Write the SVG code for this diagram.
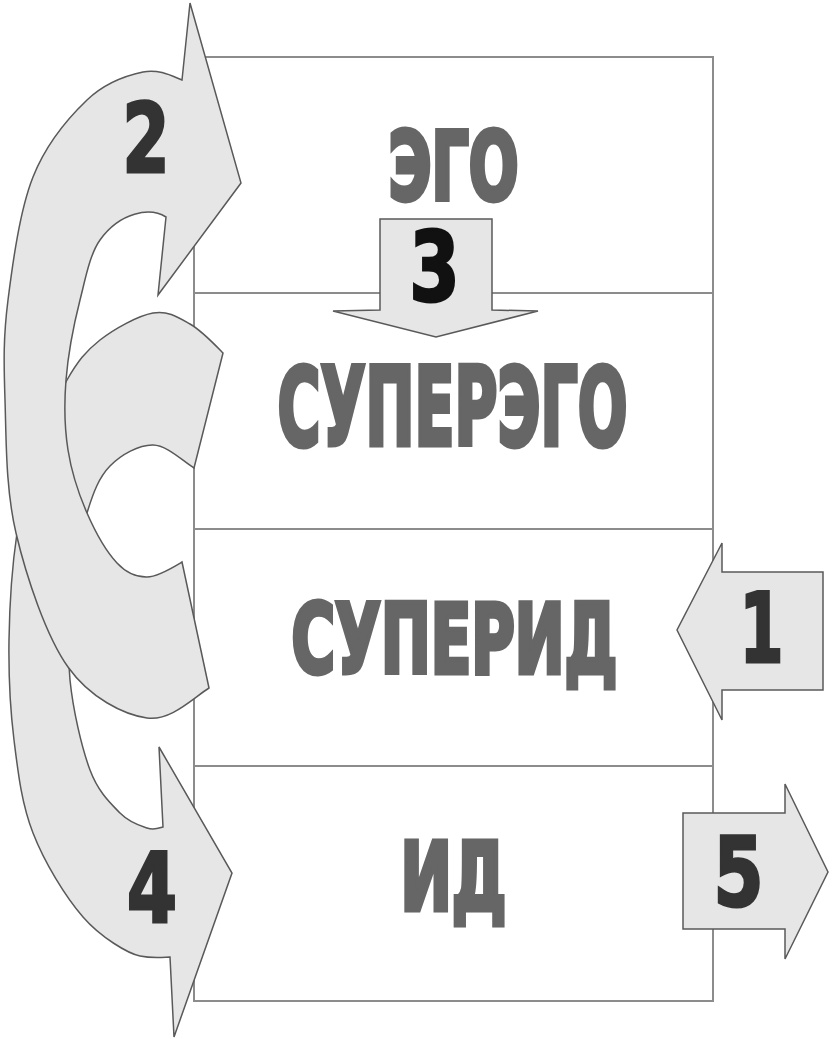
<svg xmlns="http://www.w3.org/2000/svg" width="838" height="1039" viewBox="0 0 838 1039">
<style>
.layer{fill:#ffffff;stroke:#8c8c8c;stroke-width:2}
.lbl{font-family:"DejaVu Sans Condensed","DejaVu Sans",sans-serif;font-weight:bold;fill:#666666;stroke:#666666;stroke-width:5;stroke-linejoin:miter;text-anchor:middle}
.arr{fill:#e6e6e6;stroke:#595959;stroke-width:1.5;stroke-linejoin:miter}
.num{font-family:"DejaVu Sans Condensed","DejaVu Sans",sans-serif;font-weight:bold;font-size:96px;fill:#333333;stroke:#333333;stroke-width:3;text-anchor:middle}
</style>
<rect width="838" height="1039" fill="#ffffff"/>
<g id="ego">
<rect class="layer" x="194" y="57" width="519" height="236"/>
<text class="lbl" transform="translate(453.5,199.5) scale(0.6,1)" x="0" y="0" font-size="95" textLength="216.7" lengthAdjust="spacingAndGlyphs">ЭГО</text>
</g>
<g id="superego">
<rect class="layer" x="194" y="293" width="519" height="236"/>
<text class="lbl" transform="translate(452.5,444.5) scale(0.6,1)" x="0" y="0" font-size="108" textLength="583.3" lengthAdjust="spacingAndGlyphs">СУПЕРЭГО</text>
</g>
<g id="superid">
<rect class="layer" x="194" y="529" width="519" height="237"/>
<text class="lbl" transform="translate(454.5,672.5) scale(0.6,1)" x="0" y="0" font-size="96" textLength="543.3" lengthAdjust="spacingAndGlyphs">СУПЕРИД</text>
</g>
<g id="id">
<rect class="layer" x="194" y="766" width="519" height="235"/>
<text class="lbl" transform="translate(453.5,909.5) scale(0.6,1)" x="0" y="0" font-size="95" textLength="176.7" lengthAdjust="spacingAndGlyphs">ИД</text>
</g>
<g id="connectors">
<g id="arrow4">
<path class="arr" d="M223,353 L194,468 C182,460.5 167,445.3 153,445 C139,444.7 121,454.7 110,466 C99,477.3 93.3,492.3 87,513 C80.7,533.7 74.8,562.2 72,590 C69.2,617.8 67,650 70,680 C73,710 81.7,747.8 90,770 C98.3,792.2 110.5,803.3 120,813 C129.5,822.7 139.8,825.7 147,828 C154.2,830.3 158.3,828.3 163,827 L159,747 L232,873 L174,1037 L170,957 C160,957.5 152,958.5 140,956 C128,953.5 100.8,937.5 83,917 C65.2,896.5 44.5,862.5 33,833 C21.5,803.5 18,772.2 14,740 C10,707.8 8.5,674.5 9,640 C9.5,605.5 12.3,564.7 17,533 C21.7,501.3 28.7,475.5 37,450 C45.3,424.5 56.5,398.3 67,380 C77.5,361.7 85.7,351.2 100,340 C114.3,328.8 138,315.7 153,313 C168,310.3 178.3,317.3 190,324 C201.7,330.7 214.7,344.5 223,353 Z"/>
<text class="num" transform="translate(152,921.5) scale(0.83,1)" x="0" y="0" textLength="60.2" lengthAdjust="spacingAndGlyphs">4</text>
</g>
<g id="arrow2">
<path class="arr" d="M182,80 L190,3 L241,183 L158,295 L166,217 C150,207 120,212 100,240 C90,254 85.7,277.5 80,300 C74.3,322.5 68,355 66,380 C64,405 64.5,427.8 68,450 C71.5,472.2 78.8,494.2 87,513 C95.2,531.8 107,552.3 117,563 C127,573.7 136.2,577.2 147,577 C157.8,576.8 173.2,567.3 182,562 L209,688 C193.5,697.7 170.5,721.5 147,718 C123.5,714.5 89.8,697.8 68,667 C46.2,636.2 26.5,577.5 16,533 C5.5,488.5 6.3,438.8 5,400 C3.7,361.2 3.3,337.2 8,300 C12.7,262.8 19.8,210.3 33,177 C46.2,143.7 68.7,117.5 87,100 C105.3,82.5 127.2,75.3 143,72 C158.8,68.7 172.5,76.2 182,80 Z"/>
<text class="num" transform="translate(146,171.5) scale(0.83,1)" x="0" y="0" textLength="56.6" lengthAdjust="spacingAndGlyphs">2</text>
</g>
<g id="arrow3">
<polygon class="arr" points="380,219 492,219 492,310 538,311 436,337 333,311 380,310"/>
<text class="num" transform="translate(434.5,300.5) scale(0.83,1)" x="0" y="0" textLength="60.2" lengthAdjust="spacingAndGlyphs" style="fill:#111111;stroke:#111111">3</text>
</g>
<g id="arrow1">
<polygon class="arr" points="823,572 722,572 722,543 677,630 722,720 722,690 823,690"/>
<text class="num" transform="translate(761.5,661.5) scale(0.83,1)" x="0" y="0" textLength="53" lengthAdjust="spacingAndGlyphs">1</text>
</g>
<g id="arrow5">
<polygon class="arr" points="683,813 785,813 785,784 828,872 785,959 785,929 683,929"/>
<text class="num" transform="translate(738.5,905.5) scale(0.83,1)" x="0" y="0" textLength="60.2" lengthAdjust="spacingAndGlyphs">5</text>
</g>
</g>
</svg>
